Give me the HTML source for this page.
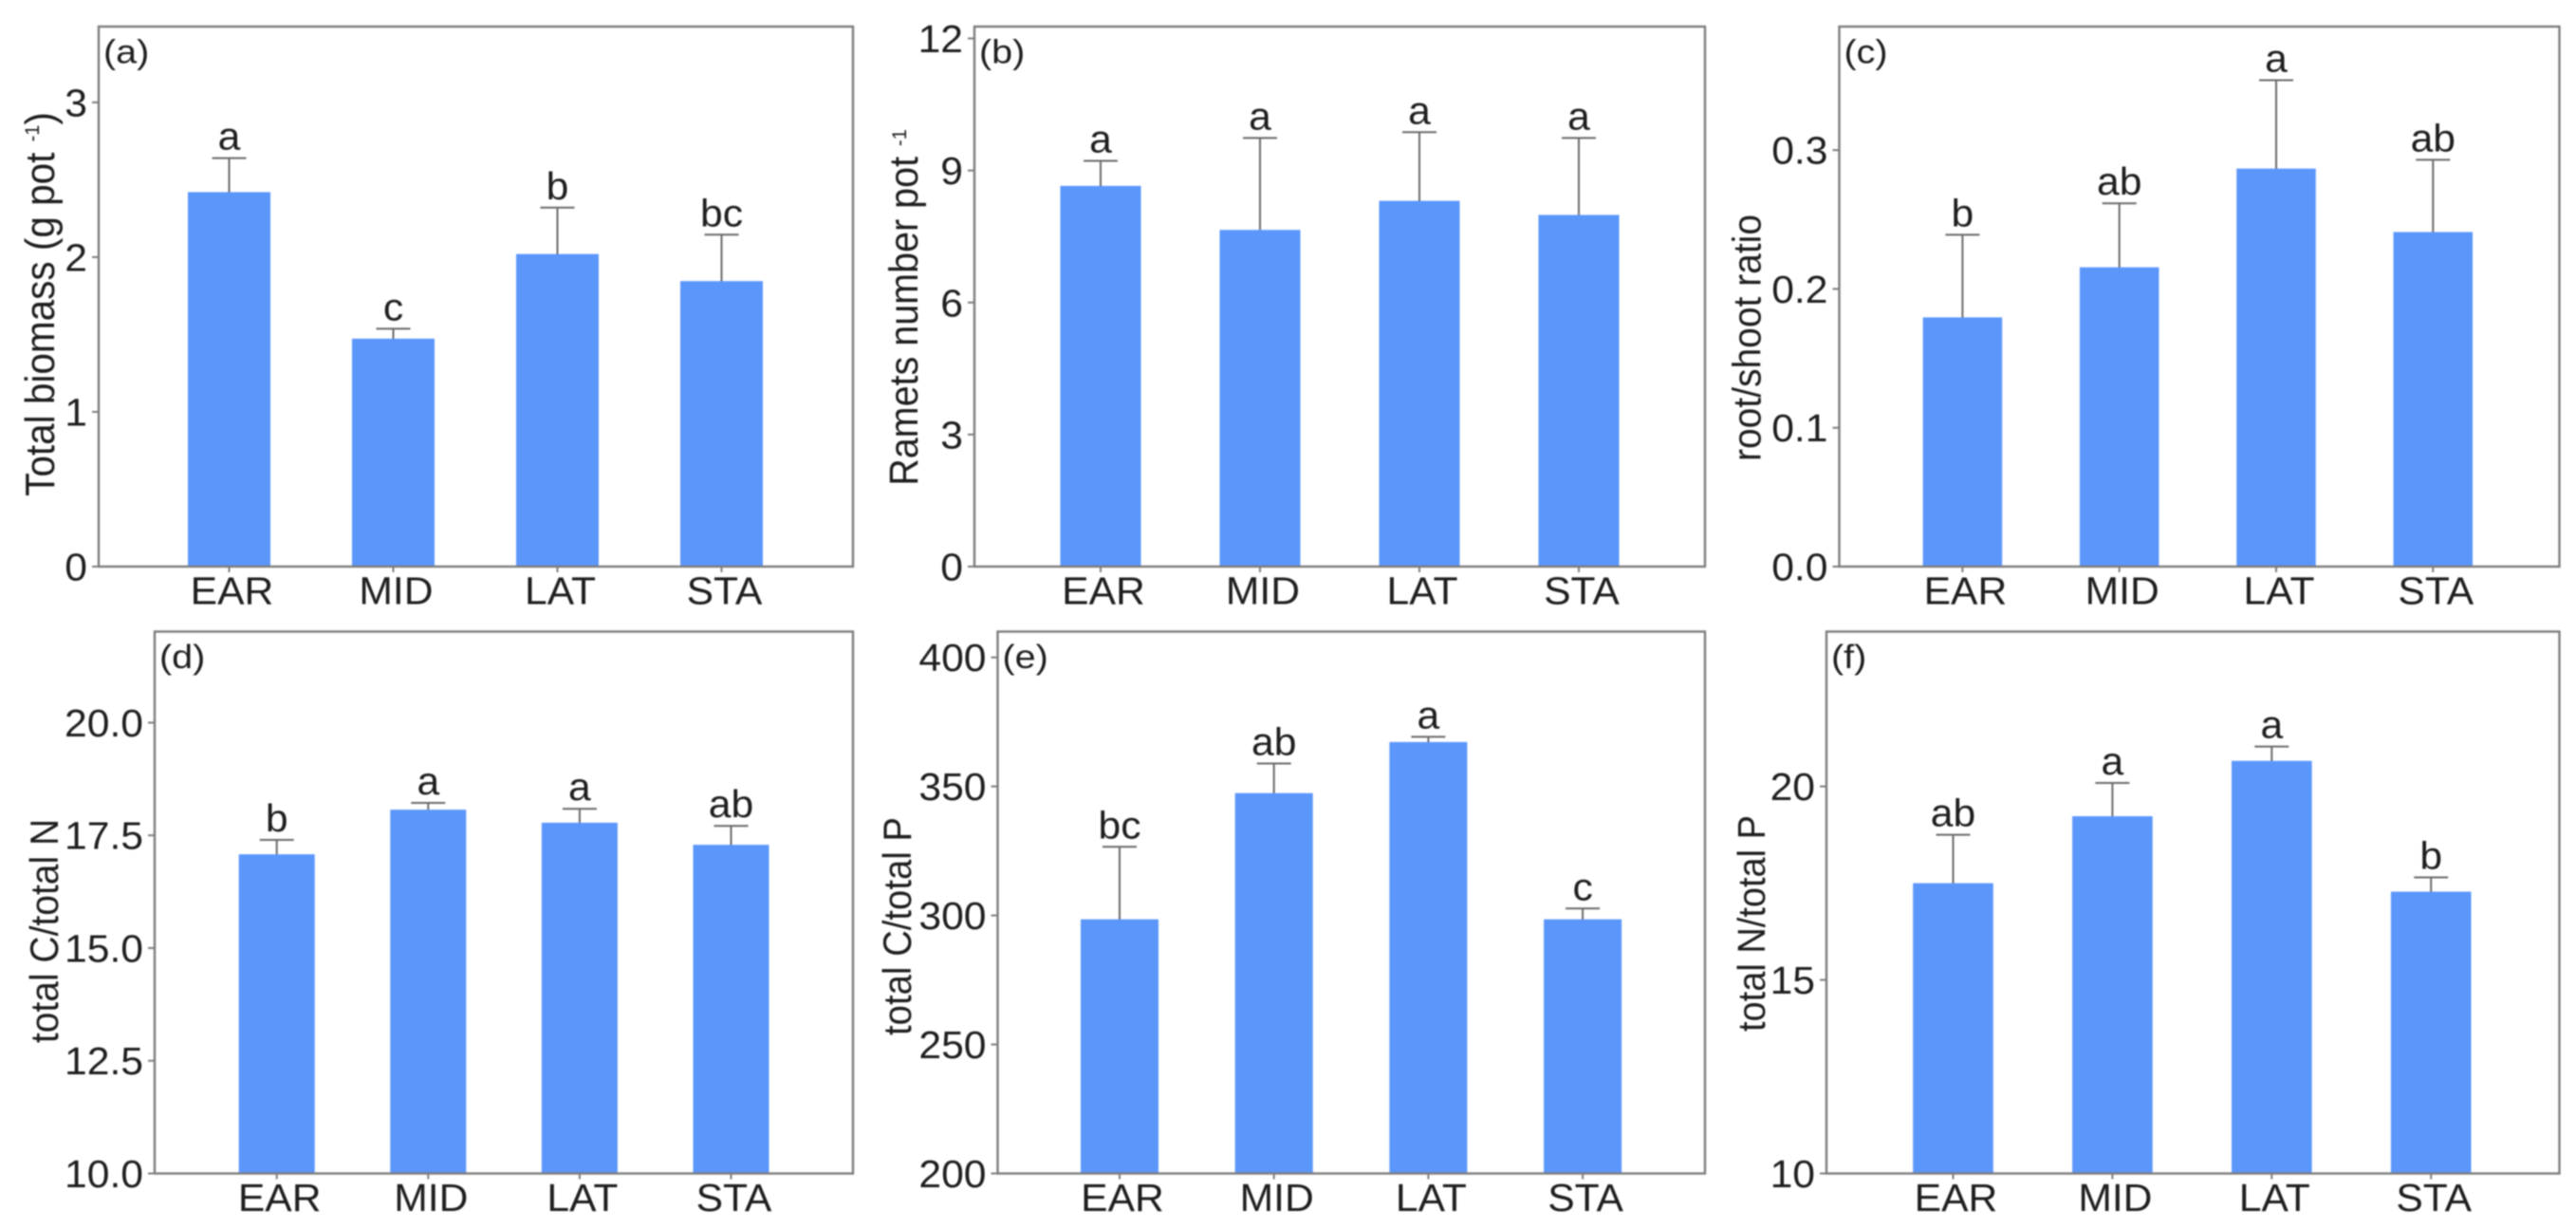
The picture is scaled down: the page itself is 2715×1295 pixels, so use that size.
<!DOCTYPE html>
<html lang="en">
<head>
<meta charset="utf-8">
<title>Biomass and stoichiometry bar charts</title>
<style>
html,body{margin:0;padding:0;background:#fff;width:2715px;height:1295px;overflow:hidden}
svg{display:block;filter:blur(0.8px)}
text{font-family:"Liberation Sans",Arial,sans-serif;fill:#1e1e1e}
</style>
</head>
<body>
<svg id="figure" width="2715" height="1295" viewBox="0 0 2715 1295" xmlns="http://www.w3.org/2000/svg"></svg>
<script>
const categories = ["EAR", "MID", "LAT", "STA"];

const biomassMeans = [2.42, 1.473, 2.02, 1.845];
const biomassUpper = [2.64, 1.537, 2.32, 2.145];
const biomassLetters = ["a", "c", "b", "bc"];
const biomassTicks = ["0", "1", "2", "3"];

const rametsMeans = [8.65, 7.65, 8.31, 7.99];
const rametsUpper = [9.22, 9.74, 9.87, 9.74];
const rametsLetters = ["a", "a", "a", "a"];
const rametsTicks = ["0", "3", "6", "9", "12"];

const rootShootMeans = [0.1795, 0.2156, 0.2867, 0.241];
const rootShootUpper = [0.239, 0.2617, 0.3504, 0.293];
const rootShootLetters = ["b", "ab", "a", "ab"];
const rootShootTicks = ["0.0", "0.1", "0.2", "0.3"];

const cnMeans = [17.08, 18.07, 17.78, 17.29];
const cnUpper = [17.4, 18.22, 18.09, 17.71];
const cnLetters = ["b", "a", "a", "ab"];
const cnTicks = ["10.0", "12.5", "15.0", "17.5", "20.0"];

const cpMeans = [298.5, 347.4, 367.2, 298.5];
const cpUpper = [326.6, 358.9, 369.2, 302.7];
const cpLetters = ["bc", "ab", "a", "c"];
const cpTicks = ["200", "250", "300", "350", "400"];

const npMeans = [17.5, 19.23, 20.66, 17.28];
const npUpper = [18.75, 20.09, 21.03, 17.65];
const npLetters = ["ab", "a", "a", "b"];
const npTicks = ["10", "15", "20"];

const panels = [
  {id:"a", tag:"(a)", title:"Total biomass (g pot ", sup:"-1", close:")", supDy:15, means:biomassMeans, upper:biomassUpper, letters:biomassLetters, ticks:biomassTicks,
   min:0, max:3.49, L:104, R:899, T:28, B:597, c0:241.5, step:173, barW:87, titleX:57, titleY:320.5, titleSize:40.5},
  {id:"b", tag:"(b)", title:"Ramets number pot ", sup:"-1", close:"", supDy:11, means:rametsMeans, upper:rametsUpper, letters:rametsLetters, ticks:rametsTicks,
   min:0, max:12.27, L:1027, R:1797, T:28, B:597, c0:1160, step:168, barW:85, titleX:967, titleY:324, titleSize:39.5},
  {id:"c", tag:"(c)", title:"root/shoot ratio", sup:"", close:"", supDy:0, means:rootShootMeans, upper:rootShootUpper, letters:rootShootLetters, ticks:rootShootTicks,
   min:0, max:0.389, L:1938.5, R:2697.5, T:28, B:597, c0:2068.4, step:165.3, barW:83.5, titleX:1855.5, titleY:356, titleSize:39},
  {id:"d", tag:"(d)", title:"total C/total N", sup:"", close:"", supDy:0, means:cnMeans, upper:cnUpper, letters:cnLetters, ticks:cnTicks,
   min:10, max:22.02, L:163, R:899, T:665.5, B:1236.5, c0:291.7, step:159.6, barW:80, titleX:61, titleY:981, titleSize:39},
  {id:"e", tag:"(e)", title:"total C/total P", sup:"", close:"", supDy:0, means:cpMeans, upper:cpUpper, letters:cpLetters, ticks:cpTicks,
   min:200, max:410, L:1051.5, R:1797, T:665.5, B:1236.5, c0:1180, step:162.7, barW:82, titleX:960, titleY:976, titleSize:38.3},
  {id:"f", tag:"(f)", title:"total N/total P", sup:"", close:"", supDy:0, means:npMeans, upper:npUpper, letters:npLetters, ticks:npTicks,
   min:10, max:24, L:1925, R:2697.5, T:665.5, B:1236.5, c0:2058.5, step:167.9, barW:84.6, titleX:1860, titleY:973, titleSize:38}
];

const NS = "http://www.w3.org/2000/svg";
const figure = document.getElementById("figure");

function make(tag, parent, geom) {
  const el = document.createElementNS(NS, tag);
  for (const k in geom) el.setAttribute(k, geom[k]);
  parent.appendChild(el);
  return el;
}
const AXIS = "#7d7d7d";
const ERR = "#6a6a6a";
const BAR = "#5b96fb";
const SX = 1.04;

panels.forEach(function (p) {
  const yScale = function (v) { return p.B - (v - p.min) * (p.B - p.T) / (p.max - p.min); };
  const xScale = function (i) { return p.c0 + i * p.step; };

  const g = make("g", figure, {});
  
  

  p.means.forEach(function (m, i) {
    const cat = categories[i].toLowerCase();
    const x = xScale(i);

    const err = make("line", g, {x1:x, x2:x, y1:yScale(p.upper[i]), y2:yScale(m) + 3, stroke:ERR, "stroke-width":2});
    
    

    const cap = make("line", g, {x1:x - 18, x2:x + 18, y1:yScale(p.upper[i]), y2:yScale(p.upper[i]), stroke:ERR, "stroke-width":2});
    
    

    const bar = make("rect", g, {x:x - p.barW / 2, y:yScale(m), width:p.barW, height:yScale(p.min) - yScale(m), fill:BAR});
    
    

    const letter = make("text", g, {transform:"translate(" + x + "," + (yScale(p.upper[i]) - 9) + ") scale(" + SX + ",1)", "text-anchor":"middle", "font-size":41});
    letter.textContent = p.letters[i];
    
    

    const tick = make("line", g, {x1:x, x2:x, y1:p.B, y2:p.B + 6, stroke:AXIS, "stroke-width":2});
    
    

    const label = make("text", g, {transform:"translate(" + (x + 3) + "," + (p.B + 39.5) + ") scale(" + SX + ",1)", "text-anchor":"middle", "font-size":41});
    label.textContent = categories[i];
    
    
  });

  const frame = make("rect", g, {x:p.L, y:p.T, width:p.R - p.L, height:p.B - p.T, fill:"none", stroke:AXIS, "stroke-width":2.4});
  
  

  p.ticks.forEach(function (t) {
    const y = yScale(parseFloat(t));

    const tick = make("line", g, {x1:p.L - 7, x2:p.L, y1:y, y2:y, stroke:AXIS, "stroke-width":2});
    
    

    const label = make("text", g, {transform:"translate(" + (p.L - 12) + "," + (y + 14.5) + ") scale(" + SX + ",1)", "text-anchor":"end", "font-size":41});
    label.textContent = t;
    
    
  });

  const tag = make("text", g, {transform:"translate(" + (p.L + 5) + "," + (p.T + 38.5) + ") scale(1.13,1)", "font-size":35});
  tag.textContent = p.tag;
  
  

  const title = make("text", g, {transform:"translate(" + p.titleX + "," + p.titleY + ") rotate(-90) scale(1,1.08)", "text-anchor":"middle", "font-size":p.titleSize});
  
  
  title.appendChild(document.createTextNode(p.title));
  if (p.sup) {
    const sup = make("tspan", title, {"font-size":20, dy:-p.supDy});
    sup.textContent = p.sup;
    
    
    if (p.close) {
      const closing = make("tspan", title, {dy:p.supDy});
      closing.textContent = p.close;
      
      
    }
  }
});
</script>
</body>
</html>
